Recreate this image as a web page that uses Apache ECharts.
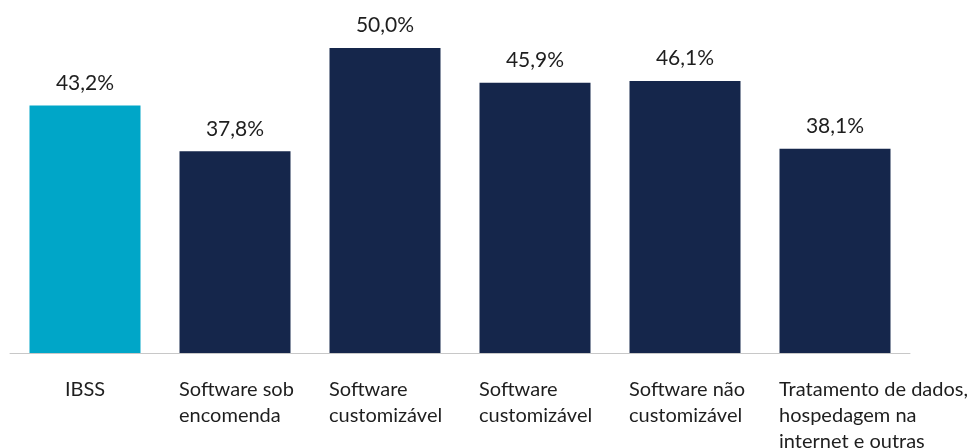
<!DOCTYPE html>
<html>
<head>
<meta charset="utf-8">
<script src="https://cdn.jsdelivr.net/npm/echarts@6/dist/echarts.min.js"></script>
<style>
  html, body { margin: 0; padding: 0; background: #fff; }
  #chart { width: 978px; height: 448px; }
</style>
</head>
<body>
<div id="chart"></div>
<script>
// Categories (each line of a wrapped label is its own entry)
const categories = [
  ['IBSS'],
  ['Software sob', 'encomenda'],
  ['Software', 'customizável'],
  ['Software', 'customizável'],
  ['Software não', 'customizável'],
  ['Tratamento de dados,', 'hospedagem na', 'internet e outras']
];
// Share per category, in percent
const values = [43.2, 37.8, 50.0, 45.9, 46.1, 38.1];
// Bar colours: highlighted first bar, then the rest
const highlightColor = '#00A6C8';
const baseColor = '#15264B';

const FONT = 'Lato';
const TEXT = '#1E1E1E';

const chart = echarts.init(document.getElementById('chart'), null, { renderer: 'canvas' });

const catNames = categories.map(lines => lines.join('\n'));

chart.setOption({
  animation: false,
  grid: {
    left: 10, right: 68, top: 48, bottom: 95,
    containLabel: false,
    outerBoundsMode: 'none'
  },
  xAxis: {
    type: 'category',
    data: catNames,
    axisLine: { show: true, lineStyle: { color: '#C8C8C8', width: 1 } },
    axisTick: { show: false },
    axisLabel: {
      interval: 0,
      margin: 24,
      color: TEXT,
      fontFamily: FONT,
      fontSize: 20,
      lineHeight: 26,
      hideOverlap: false,
      formatter: function (val) {
        const lines = val.split('\n');
        if (lines.length === 1) return lines[0];
        return lines.map(l => '{l|' + l + '}').join('\n');
      },
      rich: {
        l: {
          width: 112,
          align: 'left',
          color: TEXT,
          fontFamily: FONT,
          fontSize: 20,
          lineHeight: 26
        }
      }
    }
  },
  yAxis: {
    type: 'value',
    min: 14,
    max: 50,
    show: false,
    splitLine: { show: false }
  },
  series: [{
    type: 'bar',
    barWidth: 111,
    data: values.map((v, i) => ({
      value: v,
      itemStyle: { color: i === 0 ? highlightColor : baseColor }
    })),
    label: {
      show: true,
      position: 'top',
      distance: 12,
      color: TEXT,
      fontFamily: FONT,
      fontSize: 21,
      formatter: p => p.value.toFixed(1).replace('.', ',') + '%'
    }
  }]
});
</script>
</body>
</html>
